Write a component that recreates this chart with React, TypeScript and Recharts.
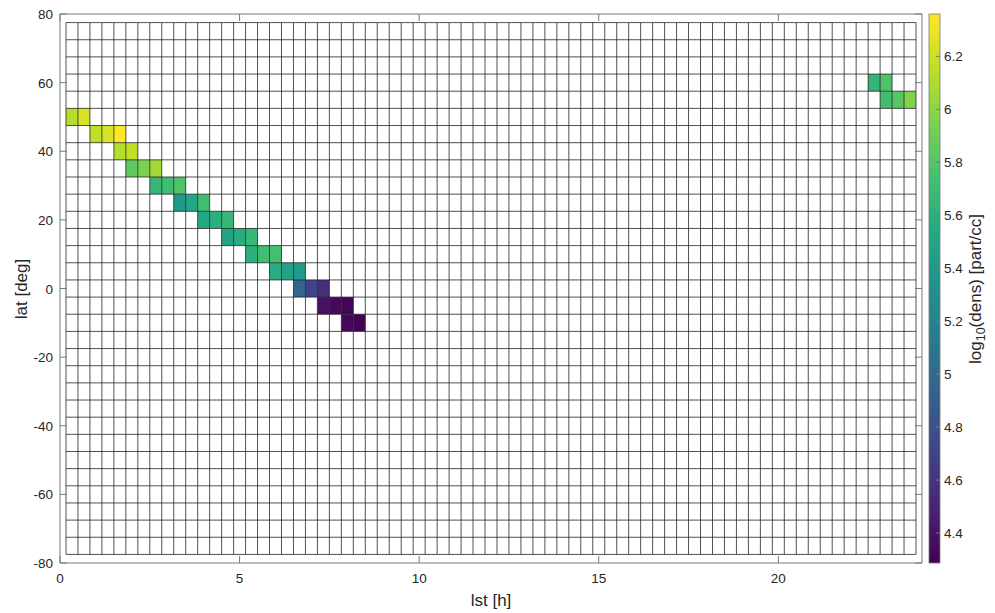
import { ComposedChart, ReferenceArea, ReferenceLine, XAxis, YAxis } from 'recharts'

const W = 995
const H = 613
const PLOT = { left: 60, right: 922, top: 14, bottom: 563 }

const LST_TICKS = [0, 5, 10, 15, 20]
const LAT_TICKS = [-80, -60, -40, -20, 0, 20, 40, 60, 80]
const CBAR_TICKS = [4.4, 4.6, 4.8, 5, 5.2, 5.4, 5.6, 5.8, 6, 6.2]
const CBAR_MIN = 4.287
const CBAR_MAX = 6.36

// pcolor grid: 71 columns of 20 min (centres at col/3 h), 31 rows of 5 deg
const N_COLS = 71
const LAT_EDGES_MAX = 77.5
const N_ROWS = 31

// filled cells, one entry per row: latitude centre, first column, log10 density values
const ROW_LAT = [60, 55, 50, 45, 40, 35, 30, 25, 20, 15, 10, 5, 0, -5, -10]
const ROW_START = [68, 69, 1, 3, 5, 6, 8, 10, 12, 14, 16, 18, 20, 22, 24]
const ROW_VALUES = [
  [5.64, 5.78],
  [5.72, 5.82, 5.97],
  [6.13, 6.24],
  [6.15, 6.24, 6.36],
  [6.13, 6.17],
  [5.84, 5.95, 6.07],
  [5.66, 5.72, 5.78],
  [5.39, 5.51, 5.72],
  [5.53, 5.59, 5.67],
  [5.49, 5.57, 5.67],
  [5.6, 5.72, 5.74],
  [5.57, 5.49, 5.41],
  [4.97, 4.71, 4.56],
  [4.38, 4.33, 4.31],
  [4.32, 4.29],
]

const VIRIDIS = [
  '#440154', '#482475', '#414487', '#355f8d', '#2a788e', '#21918c',
  '#22a884', '#44bf70', '#7ad151', '#bddf26', '#fde725',
]

const FONT = '"Liberation Sans", Arial, Helvetica, sans-serif'
const TEXT = '#262626'
const FRAME = '#7a7a7a'
const GRID = '#262626'

function rgb(hex: string) {
  const n = parseInt(hex.slice(1), 16)
  return [(n >> 16) & 255, (n >> 8) & 255, n & 255]
}

function colorFor(v: number) {
  const t = Math.min(1, Math.max(0, (v - CBAR_MIN) / (CBAR_MAX - CBAR_MIN))) * 10
  const i = Math.min(9, Math.floor(t))
  const f = t - i
  const a = rgb(VIRIDIS[i])
  const b = rgb(VIRIDIS[i + 1])
  const c = a.map((x, k) => Math.round(x + (b[k] - x) * f))
  return `rgb(${c[0]},${c[1]},${c[2]})`
}

const cells = ROW_LAT.flatMap((lat, r) =>
  ROW_VALUES[r].map((v, k) => ({ col: ROW_START[r] + k, lat, v })),
)

const colEdges = Array.from({ length: N_COLS + 1 }, (_, i) => (i + 0.5) / 3)
const rowEdges = Array.from({ length: N_ROWS + 1 }, (_, i) => LAT_EDGES_MAX - 5 * i)

function XTick({ x, payload }: any) {
  return (
    <g>
      <line x1={x} x2={x} y1={PLOT.bottom} y2={PLOT.bottom - 7} stroke={FRAME} />
      <line x1={x} x2={x} y1={PLOT.top} y2={PLOT.top + 7} stroke={FRAME} />
      <text x={x} y={PLOT.bottom + 20} textAnchor="middle" fill={TEXT} fontSize={13.5} fontFamily={FONT}>
        {payload.value}
      </text>
    </g>
  )
}

function YTick({ y, payload }: any) {
  return (
    <g>
      <line x1={PLOT.left} x2={PLOT.left + 7} y1={y} y2={y} stroke={FRAME} />
      <line x1={PLOT.right} x2={PLOT.right - 7} y1={y} y2={y} stroke={FRAME} />
      <text x={PLOT.left - 7} y={y + 5} textAnchor="end" fill={TEXT} fontSize={13.5} fontFamily={FONT}>
        {payload.value}
      </text>
    </g>
  )
}

function Colorbar() {
  const x0 = 929
  const x1 = 940
  const h = PLOT.bottom - PLOT.top
  const yOf = (v: number) => PLOT.bottom - ((v - CBAR_MIN) / (CBAR_MAX - CBAR_MIN)) * h
  return (
    <svg width={W} height={H} style={{ position: 'absolute', left: 0, top: 0, pointerEvents: 'none' }}>
      <defs>
        <linearGradient id="vir" x1="0" y1="1" x2="0" y2="0">
          {VIRIDIS.map((c, i) => (
            <stop key={i} offset={i / 10} stopColor={c} />
          ))}
        </linearGradient>
      </defs>
      <rect x={x0} y={PLOT.top} width={x1 - x0} height={h} fill="url(#vir)" stroke={FRAME} strokeWidth={0.8} />
      {CBAR_TICKS.map((t) => (
        <g key={t}>
          <line x1={x1 - 4} x2={x1} y1={yOf(t)} y2={yOf(t)} stroke={FRAME} />
          <text x={944} y={yOf(t) + 5} fill={TEXT} fontSize={13.5} fontFamily={FONT}>
            {t}
          </text>
        </g>
      ))}
      <text
        x={981}
        y={289}
        transform="rotate(-90 981 289)"
        textAnchor="middle"
        fill={TEXT}
        fontSize={17}
        fontFamily={FONT}
      >
        <tspan>log</tspan>
        <tspan fontSize={12.5} dy={4}>10</tspan>
        <tspan dy={-4}>(dens) [part/cc]</tspan>
      </text>
    </svg>
  )
}

export default function App() {
  return (
    <div style={{ position: 'fixed', left: 0, top: 0, width: W, height: H, background: '#fff' }}>
      <ComposedChart
        width={W}
        height={H}
        margin={{ top: PLOT.top, right: W - PLOT.right, bottom: 0, left: 0 }}
      >
        <XAxis
          type="number"
          dataKey="x"
          domain={[0, 24]}
          ticks={LST_TICKS}
          allowDataOverflow
          height={H - PLOT.bottom}
          axisLine={false}
          tickLine={false}
          tickSize={0}
          tick={<XTick />}
          interval={0}
        />
        <YAxis
          type="number"
          dataKey="y"
          domain={[-80, 80]}
          ticks={LAT_TICKS}
          allowDataOverflow
          width={PLOT.left}
          axisLine={false}
          tickLine={false}
          tickSize={0}
          tick={<YTick />}
          interval={0}
        />
        {cells.map((c, i) => (
          <ReferenceArea
            key={`c${i}`}
            x1={(c.col - 0.5) / 3}
            x2={(c.col + 0.5) / 3}
            y1={c.lat - 2.5}
            y2={c.lat + 2.5}
            fill={colorFor(c.v)}
            fillOpacity={1}
            stroke="none"
          />
        ))}
        {colEdges.map((x) => (
          <ReferenceLine
            key={`v${x}`}
            segment={[
              { x, y: -LAT_EDGES_MAX },
              { x, y: LAT_EDGES_MAX },
            ]}
            stroke={GRID}
            strokeWidth={0.8}
          />
        ))}
        {rowEdges.map((y) => (
          <ReferenceLine
            key={`h${y}`}
            segment={[
              { x: colEdges[0], y },
              { x: colEdges[N_COLS], y },
            ]}
            stroke={GRID}
            strokeWidth={0.8}
          />
        ))}
        <ReferenceArea x1={0} x2={24} y1={-80} y2={80} fill="none" stroke={FRAME} strokeWidth={1} />
      </ComposedChart>
      <Colorbar />
      <svg width={W} height={H} style={{ position: 'absolute', left: 0, top: 0, pointerEvents: 'none' }}>
        <text x={491} y={606} textAnchor="middle" fill={TEXT} fontSize={17} fontFamily={FONT}>
          lst [h]
        </text>
        <text x={27} y={289} transform="rotate(-90 27 289)" textAnchor="middle" fill={TEXT} fontSize={17} fontFamily={FONT}>
          lat [deg]
        </text>
      </svg>
    </div>
  )
}
